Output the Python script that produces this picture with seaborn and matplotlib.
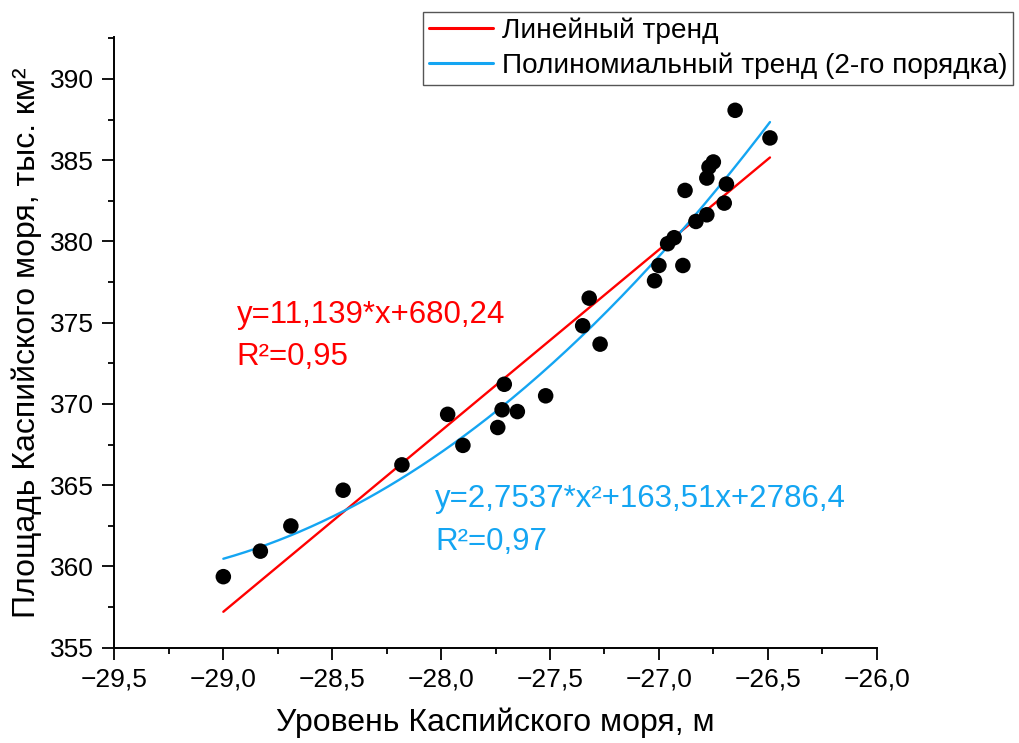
import numpy as np
import pandas as pd
import matplotlib
matplotlib.use("Agg")
import matplotlib.pyplot as plt
from matplotlib.ticker import MultipleLocator, FuncFormatter
import seaborn as sns

# Caspian Sea level (m) vs. sea area (thousand km2)
level = [-29.00, -28.83, -28.69, -28.45, -28.18, -27.97, -27.90, -27.71,
         -27.74, -27.72, -27.65, -27.52, -27.35, -27.32, -27.27, -27.02,
         -27.00, -26.89, -26.88, -26.96, -26.93, -26.83, -26.78, -26.78,
         -26.77, -26.75, -26.70, -26.69, -26.65, -26.49]
area = [359.37, 360.94, 362.49, 364.69, 366.25, 369.36, 367.45, 371.21,
        368.55, 369.64, 369.53, 370.50, 374.81, 376.51, 373.68, 377.58,
        378.52, 378.52, 383.14, 379.86, 380.23, 381.23, 381.64, 383.90,
        384.58, 384.89, 382.36, 383.53, 388.07, 386.37]

# trend coefficients as printed on the chart
lin_coef = [11.139, 680.24]
poly_coef = [2.7537, 163.51, 2786.4]

lin_label = "Линейный тренд"
poly_label = "Полиномиальный тренд (2-го порядка)"
lin_text = ["y=11,139*x+680,24", "R²=0,95"]
poly_text = ["y=2,7537*x²+163,51x+2786,4", "R²=0,97"]

RED = "#FF0000"
BLUE = "#14A5F2"

sns.set_theme(style="ticks")
plt.rcParams["font.family"] = ["Liberation Sans", "DejaVu Sans"]
plt.rcParams["text.color"] = "black"
plt.rcParams["axes.labelcolor"] = "black"

df = pd.DataFrame({"level": level, "area": area})
xs = np.linspace(min(level), max(level), 200)
trend = pd.DataFrame({
    "x": xs,
    "lin": np.polyval(lin_coef, xs),
    "poly": np.polyval(poly_coef, xs),
})

fig = plt.figure(figsize=(10.2, 7.43), dpi=100)
ax = fig.add_axes([0.1122, 0.1283, 0.7473, 0.8223])

sns.lineplot(data=trend, x="x", y="lin", ax=ax, color=RED, lw=1.7, label=lin_label)
sns.lineplot(data=trend, x="x", y="poly", ax=ax, color=BLUE, lw=1.7, label=poly_label)
sns.scatterplot(data=df, x="level", y="area", ax=ax, color="black", s=125,
                edgecolor="none", zorder=3)

ax.set_xlim(-29.5, -26.0)
ax.set_ylim(355, 392.6)
ax.xaxis.set_major_locator(MultipleLocator(0.5))
ax.xaxis.set_minor_locator(MultipleLocator(0.25))
ax.yaxis.set_major_locator(MultipleLocator(5))
ax.yaxis.set_minor_locator(MultipleLocator(2.5))
comma = FuncFormatter(lambda v, p: f"{v:.1f}".replace(".", ",").replace("-", "\u2212"))
ax.xaxis.set_major_formatter(comma)
ax.yaxis.set_major_formatter(FuncFormatter(lambda v, p: f"{v:.0f}"))

sns.despine(ax=ax)
for side in ["left", "bottom"]:
    ax.spines[side].set_linewidth(1.4)
    ax.spines[side].set_color("black")
ax.tick_params(which="major", direction="out", length=8.5, width=1.3,
               labelsize=19, pad=6, colors="black")
ax.tick_params(which="minor", direction="out", length=4.5, width=1.3, colors="black")

ax.set_xlabel("Уровень Каспийского моря, м", fontsize=23, labelpad=11)
ax.set_ylabel("Площадь Каспийского моря, тыс. км²", fontsize=23, labelpad=6)

ax.text(-28.938, 374.97, lin_text[0], color=RED, fontsize=22.5, va="baseline")
ax.text(-28.938, 372.38, lin_text[1], color=RED, fontsize=22.5, va="baseline")
ax.text(-28.028, 363.68, poly_text[0], color=BLUE, fontsize=22.5, va="baseline")
ax.text(-28.028, 361.02, poly_text[1], color=BLUE, fontsize=22.5, va="baseline")

leg = ax.legend(loc="upper left", bbox_to_anchor=(0.4147, 0.9838),
                bbox_transform=fig.transFigure, borderaxespad=0,
                fontsize=20.2, frameon=True, fancybox=False, framealpha=1,
                handlelength=2.3, handletextpad=0.3, borderpad=0.2,
                labelspacing=0.3)
leg.get_frame().set_edgecolor("#555555")
leg.get_frame().set_linewidth(1.0)
for h in leg.get_lines():
    h.set_linewidth(2.2)

fig.savefig("out.png", dpi=100)
